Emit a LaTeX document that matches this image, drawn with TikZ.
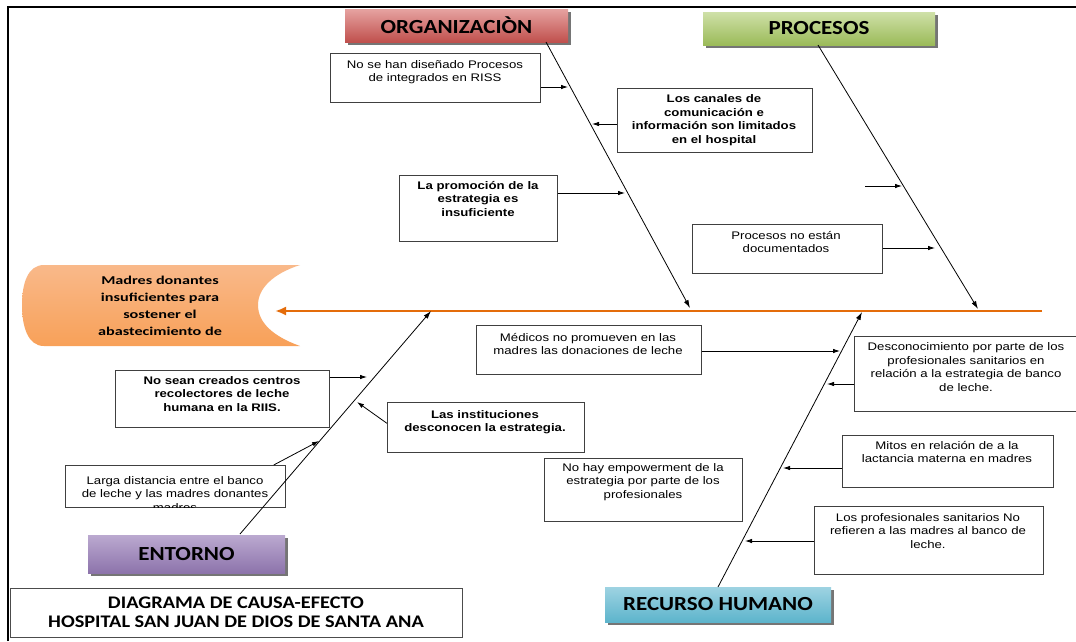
\documentclass[tikz,border=0pt]{standalone}
\usepackage{fontspec}
\setmainfont{Liberation Sans}
\newfontfamily\arialx{Liberation Sans}[FakeStretch=1.2]
\newfontfamily\calcat{Carlito}[FakeStretch=1.15]
\newfontfamily\calhead{Carlito}[FakeStretch=1.35]
\usetikzlibrary{arrows.meta,shadows}
\definecolor{orgc}{HTML}{C0504D}
\definecolor{orgl}{HTML}{E6A3A1}
\definecolor{proc}{HTML}{9BBB59}
\definecolor{prol}{HTML}{CFE0A8}
\definecolor{entc}{HTML}{8064A2}
\definecolor{entl}{HTML}{BBA9D0}
\definecolor{rhc}{HTML}{4BACC6}
\definecolor{rhl}{HTML}{9ED3E2}
\definecolor{spinec}{HTML}{E46C0A}
\definecolor{headc}{HTML}{F79646}
\definecolor{headl}{HTML}{F9B98A}
\begin{document}
\begin{tikzpicture}[x=1pt,y=-1pt,
  cbox/.style={draw=black!75, line width=0.7pt, fill=white, anchor=north west, inner sep=0pt},
  txt/.style={font=\arialx\fontsize{11}{13.5}\selectfont, align=center, inner sep=0pt},
  btxt/.style={font=\arialx\bfseries\fontsize{11}{13.5}\selectfont, align=center, inner sep=0pt},
  cat/.style={font=\calcat\bfseries\fontsize{20}{22}\selectfont, inner sep=0pt,
    drop shadow={shadow xshift=2.5pt, shadow yshift=-2.5pt, fill=black!60, opacity=0.9}},
  bone/.style={line width=0.8pt, -{Latex[length=8pt,width=5pt]}},
  arr/.style={line width=0.8pt, -{Latex[length=7pt,width=4.5pt]}},
  spine/.style={line width=2.8pt, draw=spinec, -{Latex[length=11pt,width=9pt]}},
  headfill/.style={top color=headl, middle color=headc, bottom color=headc!90!white},
  frame/.style={line width=2.6pt}
]
\useasboundingbox (0,0) rectangle (1076,641);
\fill[white] (0,0) rectangle (1076,641);
\draw[frame] (8,641) -- (8,7) -- (1076,7);

% category boxes
\node[cat, minimum width=223, minimum height=33, top color=orgl, middle color=orgc, bottom color=orgc] (ORG) at (456.5,25.5) {ORGANIZACIÒN};
\node[cat, minimum width=232, minimum height=33, top color=prol, middle color=proc, bottom color=proc] (PRO) at (819,28.5) {PROCESOS};
\node[cat, minimum width=197, minimum height=38, top color=entl, middle color=entc, bottom color=entc!90!white] (ENT) at (186.5,554) {ENTORNO};
\node[cat, minimum width=226, minimum height=35, top color=rhl, middle color=rhc, bottom color=rhc!90!white] (RH) at (718,604.5) {RECURSO HUMANO};

% title
\node[draw=black!70, line width=0.7pt, minimum width=452, minimum height=49, align=center, inner sep=0pt,
  font=\calcat\bfseries\fontsize{17.7}{19}\selectfont] (TITLE) at (236,612.5)
  {DIAGRAMA DE CAUSA-EFECTO\\HOSPITAL SAN JUAN DE DIOS DE SANTA ANA};

% head
\path[headfill] (300,265) -- (44,265) .. controls (28,265) and (22,283) .. (22,305)
  .. controls (22,327) and (28,346) .. (44,346) -- (300,346)
  .. controls (272,336) and (258,322) .. (258,305)
  .. controls (258,289) and (272,274) .. (300,265) -- cycle;
\node[font=\calhead\bfseries\fontsize{12}{17}\selectfont, align=center, inner sep=0pt] (HEAD) at (160,306)
  {Madres donantes\\insuficientes para\\sostener el\\abastecimiento de};

% spine
\coordinate (spR) at (1042,311);
\coordinate (spL) at (275,311);
\draw[spine] (spR) -- (spL);

% cause boxes
\node[cbox, minimum width=210, minimum height=49] (A) at (330,53) {};
\node[txt] (At) at (435,72) {No se han diseñado Procesos\\de integrados en RISS};
\node[cbox, minimum width=195, minimum height=64] (B) at (617,88) {};
\node[btxt] (Bt) at (714,120) {Los canales de\\comunicación e\\información son limitados\\en el hospital};
\node[cbox, minimum width=158, minimum height=66] (C) at (399,175) {};
\node[btxt] (Ct) at (478,199) {La promoción de la\\estrategia es\\insuficiente};
\node[cbox, minimum width=190, minimum height=49] (D) at (692,224) {};
\node[txt] (Dt) at (786,242) {Procesos no están\\documentados};
\node[cbox, minimum width=225, minimum height=49] (E) at (476,325) {};
\node[txt] (Et) at (588,344) {Médicos no promueven en las\\madres las donaciones de leche};
\node[cbox, minimum width=224, minimum height=75] (F) at (854,336) {};
\node[txt] (Ft) at (966,367) {Desconocimiento por parte de los\\profesionales sanitarios en\\relación a la estrategia de banco\\de leche.};
\node[cbox, minimum width=211, minimum height=52] (G) at (842,435) {};
\node[txt] (Gt) at (947,452) {Mitos en relación de a la\\lactancia materna en madres};
\node[cbox, minimum width=229, minimum height=68] (H) at (814,506) {};
\node[txt] (Ht) at (928,531) {Los profesionales sanitarios No\\refieren a las madres al banco de\\leche.};
\node[cbox, minimum width=198, minimum height=63] (I) at (544,458) {};
\node[txt] (It) at (643,482) {No hay empowerment de la\\estrategia por parte de los\\profesionales};
\node[cbox, minimum width=214, minimum height=57] (J) at (115,370) {};
\node[btxt] (Jt) at (222,394) {No sean creados centros\\recolectores de leche\\humana en la RIIS.};
\node[cbox, minimum width=197, minimum height=50] (K) at (387,402) {};
\node[btxt] (Kt) at (485,422) {Las instituciones\\desconocen la estrategia.};
\node[cbox, minimum width=220, minimum height=42] (L) at (65,465) {};
\begin{scope}
  \clip (L.north west) rectangle (L.south east);
  \node[txt] (Lt) at (175,494) {Larga distancia entre el banco\\de leche y las madres donantes\\madres};
\end{scope}

% bones
\coordinate (orgS) at (546,42);  \coordinate (orgE) at (690,308);
\coordinate (proS) at (818,45);  \coordinate (proE) at (978,309);
\coordinate (entS) at (240,534); \coordinate (entE) at (431,311);
\coordinate (rhS) at (718,587);  \coordinate (rhE) at (862,312);
\draw[bone] (orgS) -- (orgE);
\draw[bone] (proS) -- (proE);
\draw[bone] (entS) -- (entE);
\draw[bone] (rhS) -- (rhE);

% cause arrows
\coordinate (a1) at (568,87);  \draw[arr] (A.east |- a1) -- (a1);
\coordinate (b1) at (592,124); \draw[arr] (B.west |- b1) -- (b1);
\coordinate (c1) at (625,193); \draw[arr] (C.east |- c1) -- (c1);
\coordinate (s0) at (865,186); \coordinate (s1) at (902,186); \draw[arr] (s0) -- (s1);
\coordinate (d1) at (935,248); \draw[arr] (D.east |- d1) -- (d1);
\coordinate (e1) at (840,351); \draw[arr] (E.east |- e1) -- (e1);
\coordinate (f1) at (827,384); \draw[arr] (F.west |- f1) -- (f1);
\coordinate (g1) at (783,468); \draw[arr] (G.west |- g1) -- (g1);
\coordinate (h1) at (745,541); \draw[arr] (H.west |- h1) -- (h1);
\coordinate (j1) at (367,377); \draw[arr] (J.east |- j1) -- (j1);
\coordinate (k1) at (357,402); \draw[arr] ([yshift=4pt]K.west) -- (k1);
\coordinate (l1) at (319,441); \draw[arr] ([xshift=-12pt]L.north east) -- (l1);
\end{tikzpicture}
\end{document}
